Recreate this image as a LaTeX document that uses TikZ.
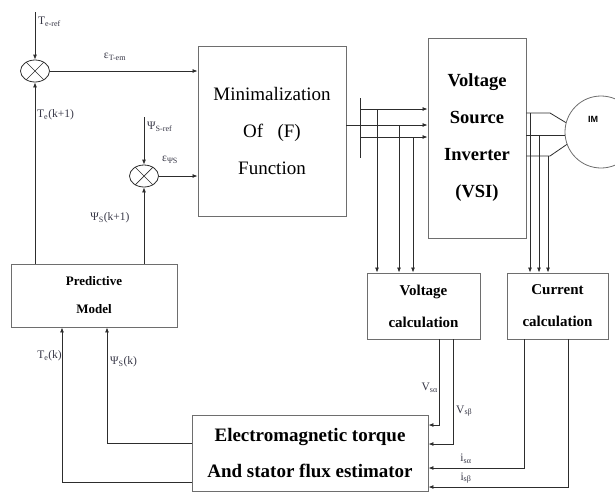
\documentclass[tikz,border=0pt]{standalone}
\usepackage{fontspec}
\setmainfont{Liberation Serif}
\newfontfamily\imfont{Liberation Sans}
\usetikzlibrary{arrows.meta,positioning,shapes.geometric}
\definecolor{boxgray}{RGB}{110,110,110}
\definecolor{linegray}{RGB}{45,45,45}
\definecolor{lblgray}{RGB}{55,55,70}

\begin{document}
\begin{tikzpicture}[x=1pt, y=-1pt]
\tikzset{
    block/.style={draw=boxgray, line width=0.9pt, align=center, inner sep=0pt},
    sumnode/.style={draw=linegray, ellipse, line width=0.8pt, minimum width=29pt, minimum height=22pt, inner sep=0pt},
    arr/.style={draw=linegray, line width=0.8pt, -{Latex[length=5pt,width=4pt]}},
    wire/.style={draw=linegray, line width=0.8pt},
    lbl/.style={inner sep=0pt, text=lblgray, font=\fontsize{11.5}{13}\selectfont}
}
\useasboundingbox (0,0) rectangle (615,493);

% main blocks
\node[block, minimum width=148pt, minimum height=170pt, font=\fontsize{19}{37}\selectfont] (minf) at (272,131) {Minimalization\\Of\ \ \ (F)\\Function};
\node[block, minimum width=98pt, minimum height=200pt, font=\bfseries\fontsize{18.5}{37}\selectfont] (vsi) at (477,138) {Voltage\\Source\\Inverter\\(VSI)};
\node[block, minimum width=166pt, minimum height=63pt, font=\bfseries\fontsize{13}{28}\selectfont] (pm) at (94,295.5) {Predictive\\Model};
\node[block, minimum width=113pt, minimum height=66pt, font=\bfseries\fontsize{15}{32}\selectfont] (vc) at (423.5,306) {Voltage\\calculation};
\node[block, minimum width=101pt, minimum height=66pt, font=\bfseries\fontsize{15}{32}\selectfont] (cc) at (557.5,306) {Current\\calculation};
\node[block, minimum width=236pt, minimum height=76pt, font=\bfseries\fontsize{19}{36}\selectfont] (est) at (310,453) {Electromagnetic torque\\And stator flux estimator};

% summing junctions
\node[sumnode] (s1) at (35,71) {};
\draw[linegray, line width=0.7pt] (s1.45) -- (s1.225) (s1.135) -- (s1.-45);
\node[sumnode] (s2) at (144,176) {};
\draw[linegray, line width=0.7pt] (s2.45) -- (s2.225) (s2.135) -- (s2.-45);

% motor
\begin{scope}
    \clip (0,0) rectangle (615,493);
    \node[draw=boxgray, circle, line width=0.8pt, minimum size=72pt] (im) at (601,132) {};
\end{scope}
\node[font=\imfont\bfseries\fontsize{9}{10}\selectfont] (imtxt) at (593,119) {IM};

% torque and flux errors
\coordinate (teref) at (35,12);
\draw[arr] (teref) -- (s1.north);
\draw[arr] (s1.east) -- (s1.east -| minf.west);
\draw[arr] (s1 |- pm.north) -- (s1.south);
\coordinate (psiref) at (144,117);
\draw[arr] (psiref) -- (s2.north);
\draw[arr] (s2.east) -- (s2.east -| minf.west);
\draw[arr] (s2 |- pm.north) -- (s2.south);

% switching signals to the inverter
\coordinate (bus) at (360,125);
\draw[wire] (minf.east |- bus) -- (bus);
\draw[wire] ([yshift=27pt]bus) -- ([yshift=-33pt]bus);
\foreach \y/\x [count=\i] in {109/377,125/399,137/413}{
    \coordinate (g\i) at (360,\y);
    \coordinate (t\i) at (\x,\y);
    \draw[arr] (g\i) -- (g\i -| vsi.west);
    \draw[arr] (t\i) -- (t\i |- vc.north);
}

% inverter to motor
\coordinate (m1) at (550,113);
\coordinate (m2) at (565,135);
\coordinate (m3) at (550,156);
\draw[wire] (vsi.east |- m1) -- (m1) -- (im.165);
\draw[wire] (vsi.east |- m2) -- (m2);
\draw[wire] (vsi.east |- m3) -- (m3) -- (im.200);
\foreach \y/\x [count=\i] in {113/530,135/539,156/548}{
    \coordinate (c\i) at (\x,\y);
    \draw[arr] (c\i) -- (c\i |- cc.north);
}

% measured quantities to the estimator
\coordinate (va) at (439,425);
\coordinate (vb) at (453,444);
\coordinate (ia) at (524,468);
\coordinate (ib) at (568,487);
\foreach \p in {va,vb}{\draw[arr] (vc.south -| \p) -- (\p) -- (\p -| est.east);}
\foreach \p in {ia,ib}{\draw[arr] (cc.south -| \p) -- (\p) -- (\p -| est.east);}

% estimates back to the model
\coordinate (tk) at (62,482);
\coordinate (pk) at (107,443);
\draw[arr] (est.west |- tk) -- (tk) -- (tk |- pm.south);
\draw[arr] (est.west |- pk) -- (pk) -- (pk |- pm.south);

% signal labels
\node[lbl, anchor=west] (lteref) at (38,22) {T\textsubscript{e-ref}};
\node[lbl] (lett) at (115,57) {ε\textsubscript{T-em}};
\node[lbl, anchor=west] (ltek1) at (37,115) {T\textsubscript{e}(k+1)};
\node[lbl, anchor=west] (lpsiref) at (147,127) {Ψ\textsubscript{S-ref}};
\node[lbl, anchor=west] (lepsi) at (162,160) {ε\textsubscript{ΨS}};
\node[lbl] (lpsik1) at (110,218) {Ψ\textsubscript{S}(k+1)};
\node[lbl, anchor=east] (ltek) at (62,356) {T\textsubscript{e}(k)};
\node[lbl, anchor=west] (lpsik) at (110,362) {Ψ\textsubscript{S}(k)};
\node[lbl, anchor=east] (lva) at (438,388) {V\textsubscript{sα}};
\node[lbl, anchor=west] (lvb) at (456,411) {V\textsubscript{sβ}};
\node[lbl] (lia) at (466,459) {i\textsubscript{sα}};
\node[lbl] (lib) at (466,478) {i\textsubscript{sβ}};

\end{tikzpicture}
\end{document}
